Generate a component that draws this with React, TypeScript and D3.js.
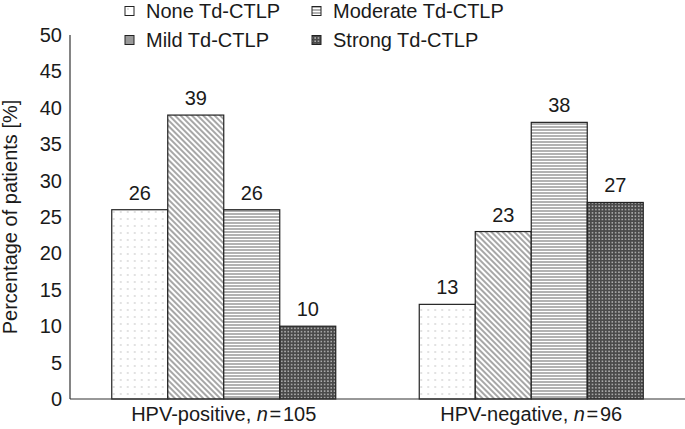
import React from "react";
import * as d3 from "d3";

const groups = ["HPV-positive", "HPV-negative"];
const groupN = ["105", "96"];
const series = ["None Td-CTLP", "Mild Td-CTLP", "Moderate Td-CTLP", "Strong Td-CTLP"];
const patternIds = ["pNone", "pMild", "pModerate", "pStrong"];
const values = [
  [26, 39, 26, 10],
  [13, 23, 38, 27],
];
const yTicks = [0, 5, 10, 15, 20, 25, 30, 35, 40, 45, 50];

const W = 685;
const H = 429;
const FONT = "'Liberation Sans', Arial, Helvetica, sans-serif";
const FS = 20;

export default function App() {
  const left = 70;
  const right = 685;
  const y = d3.scaleLinear().domain([0, 50]).range([399, 35]);
  const x0 = d3.scaleBand<string>().domain(groups).range([left, right]).padding(0);
  const groupWidth = 224;
  const x1 = d3
    .scaleBand<string>()
    .domain(series)
    .range([0, groupWidth])
    .padding(0);

  // legend layout: column-major, 2 rows
  const legendPos = [
    { x: 125, y: 11 },
    { x: 125, y: 40 },
    { x: 312, y: 11 },
    { x: 312, y: 40 },
  ];

  return (
    <svg
      width={W}
      height={H}
      style={{ position: "absolute", left: 0, top: 0, background: "#fff" }}
      fontFamily={FONT}
    >
      <defs>
        <pattern id="pNone" width="7" height="7" patternUnits="userSpaceOnUse">
          <rect width="7" height="7" fill="#fff" />
          <circle cx="2" cy="2" r="0.7" fill="#b0b0b0" />
        </pattern>
        <pattern
          id="pMild"
          width="4"
          height="4"
          patternUnits="userSpaceOnUse"
          patternTransform="rotate(45)"
        >
          <rect width="4" height="4" fill="#fff" />
          <line x1="0" y1="1" x2="4" y2="1" stroke="#777" strokeWidth="1.3" />
        </pattern>
        <pattern id="pModerate" width="4" height="3" patternUnits="userSpaceOnUse">
          <rect width="4" height="3" fill="#fff" />
          <line x1="0" y1="1" x2="4" y2="1" stroke="#888" strokeWidth="1.3" />
        </pattern>
        <pattern id="pStrong" width="3.3" height="3.3" patternUnits="userSpaceOnUse">
          <rect width="3.3" height="3.3" fill="#4a4a4a" />
          <rect x="1" y="1" width="1.4" height="1.4" fill="#c8c8c8" />
        </pattern>
      </defs>

      {/* legend */}
      {series.map((s, i) => (
        <g key={s}>
          <rect
            x={legendPos[i].x}
            y={legendPos[i].y - 4.5}
            width={9}
            height={9}
            fill={i === 1 ? "#999" : `url(#${patternIds[i]})`}
            stroke="#222"
            strokeWidth={1}
          />
          <text
            x={legendPos[i].x + 21}
            y={legendPos[i].y}
            dy="0.35em"
            fontSize={FS}
            fill="#1a1a1a"
          >
            {s}
          </text>
        </g>
      ))}

      {/* y tick labels */}
      {yTicks.map((t) => (
        <text
          key={t}
          x={62}
          y={y(t)}
          dy="0.35em"
          textAnchor="end"
          fontSize={FS}
          fill="#1a1a1a"
        >
          {t}
        </text>
      ))}

      {/* y title */}
      <text
        transform={`translate(17, ${(y(0) + y(50)) / 2}) rotate(-90)`}
        textAnchor="middle"
        fontSize={FS}
        fill="#1a1a1a"
      >
        Percentage of patients [%]
      </text>

      {/* bars */}
      {groups.map((g, gi) => {
        const gx = (x0(g) as number) + (x0.bandwidth() - groupWidth) / 2;
        return (
          <g key={g} transform={`translate(${gx},0)`}>
            {series.map((s, si) => {
              const v = values[gi][si];
              const bx = x1(s) as number;
              return (
                <g key={s}>
                  <rect
                    x={bx}
                    y={y(v)}
                    width={x1.bandwidth()}
                    height={y(0) - y(v)}
                    fill={`url(#${patternIds[si]})`}
                    stroke="#222"
                    strokeWidth={1.2}
                  />
                  <text
                    x={bx + x1.bandwidth() / 2}
                    y={y(v) - 10}
                    textAnchor="middle"
                    fontSize={FS}
                    fill="#1a1a1a"
                  >
                    {v}
                  </text>
                </g>
              );
            })}
            <text
              x={groupWidth / 2}
              y={421}
              textAnchor="middle"
              fontSize={FS}
              fill="#1a1a1a"
            >
              {g}, <tspan fontStyle="italic">n</tspan>
              {"\u200A=\u200A"}
              {groupN[gi]}
            </text>
          </g>
        );
      })}

      {/* axes */}
      <line x1={left} x2={left} y1={y(50)} y2={y(0)} stroke="#333" strokeWidth={1.2} />
      <line x1={left} x2={right} y1={y(0)} y2={y(0)} stroke="#333" strokeWidth={1.2} />
    </svg>
  );
}
